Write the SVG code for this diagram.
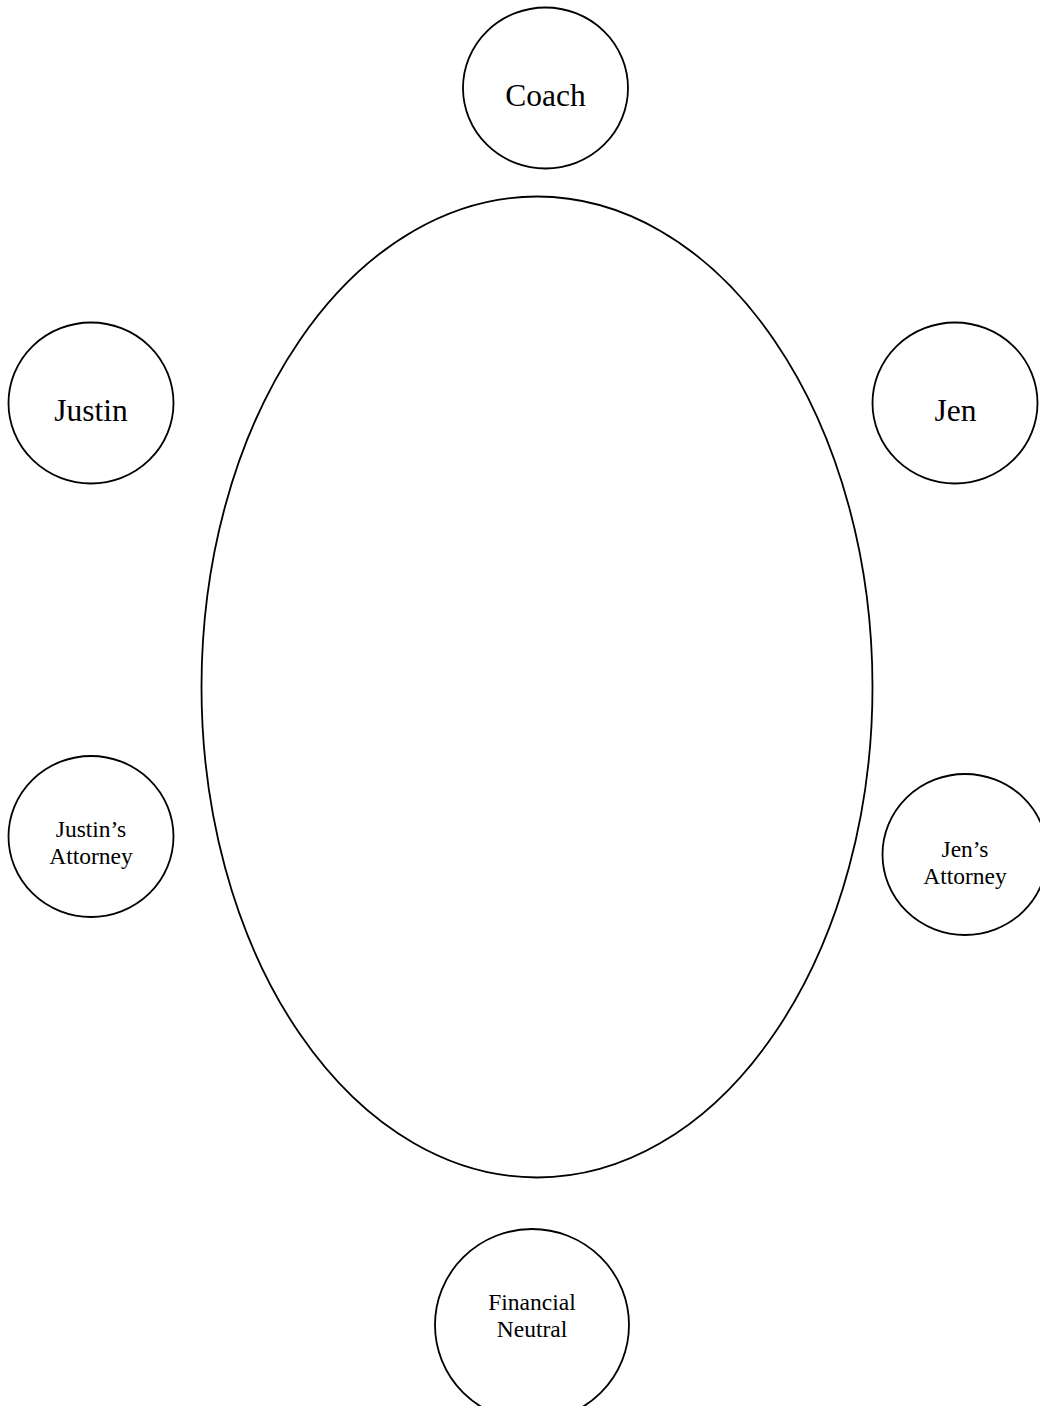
<svg xmlns="http://www.w3.org/2000/svg" width="1040" height="1406" viewBox="0 0 1040 1406">
<style>
.shape{fill:#fff;stroke:#000;stroke-width:1.8}
.big{font-family:"Liberation Serif","Times New Roman",serif;font-size:31.5px;fill:#000;text-anchor:middle}
.small{font-family:"Liberation Serif","Times New Roman",serif;font-size:23.5px;fill:#000;text-anchor:middle}
</style>
<rect width="1040" height="1406" fill="#fff"/>
<g id="table"><ellipse class="shape" cx="537" cy="687" rx="335.5" ry="490.5"/></g>
<g id="coach"><ellipse class="shape" cx="545.5" cy="88" rx="82.5" ry="80.5"/><text class="big" x="545.5" y="106">Coach</text></g>
<g id="justin"><ellipse class="shape" cx="91" cy="403" rx="82.5" ry="80.5"/><text class="big" x="91" y="421">Justin</text></g>
<g id="jen"><ellipse class="shape" cx="955" cy="403" rx="82.5" ry="80.5"/><text class="big" x="955.5" y="421">Jen</text></g>
<g id="justins-attorney"><ellipse class="shape" cx="91" cy="836.5" rx="82.5" ry="80.5"/><text class="small" x="91" y="837">Justin’s</text><text class="small" x="91" y="864">Attorney</text></g>
<g id="jens-attorney"><ellipse class="shape" cx="965" cy="854.5" rx="82.5" ry="80.5"/><text class="small" x="965" y="857">Jen’s</text><text class="small" x="965" y="884">Attorney</text></g>
<g id="financial-neutral"><ellipse class="shape" cx="532" cy="1325" rx="97" ry="96"/><text class="small" x="532" y="1310">Financial</text><text class="small" x="532" y="1337">Neutral</text></g>
<g id="connectors"></g>
</svg>
